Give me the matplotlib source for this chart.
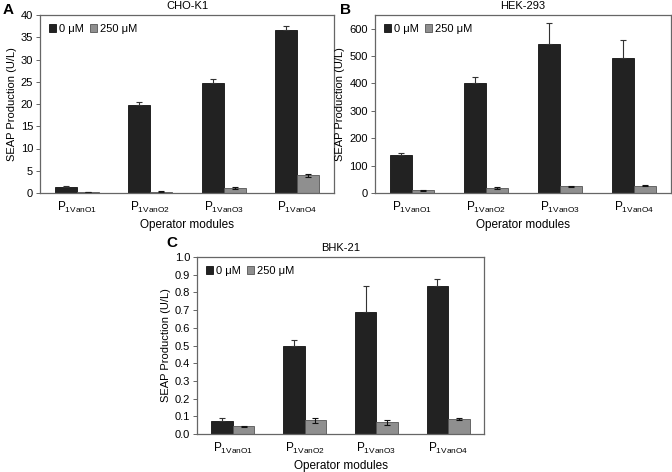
import matplotlib
matplotlib.use("Agg")
import matplotlib.pyplot as plt
import numpy as np

categories = ["1VanO1", "1VanO2", "1VanO3", "1VanO4"]
series_names = ["0 \u03bcM", "250 \u03bcM"]

cho_0 = [1.4, 19.7, 24.7, 36.7]
cho_0_err = [0.2, 0.7, 1.0, 0.9]
cho_250 = [0.2, 0.3, 1.1, 4.0]
cho_250_err = [0.05, 0.1, 0.15, 0.35]

hek_0 = [137, 400, 543, 493]
hek_0_err = [10, 24, 78, 67]
hek_250 = [10, 18, 24, 27]
hek_250_err = [2, 3, 2, 2]

bhk_0 = [0.073, 0.495, 0.690, 0.835]
bhk_0_err = [0.015, 0.035, 0.147, 0.040]
bhk_250 = [0.043, 0.078, 0.065, 0.083]
bhk_250_err = [0.003, 0.015, 0.016, 0.005]

plt.rcParams['font.family'] = ['Liberation Sans', 'DejaVu Sans']
plt.rcParams['mathtext.fontset'] = 'custom'
plt.rcParams['mathtext.rm'] = 'Liberation Sans'

W, H = 672, 472
fig = plt.figure(figsize=(W/100, H/100), dpi=100)

def ax_rect(x0, y0, x1, y1):
    return [x0/W, 1 - y1/H, (x1-x0)/W, (y1-y0)/H]

dark = '#222222'
grey = '#8f8f8f'
spine_c = '#666666'

def panel(rect, title, letter, letter_xy, d0, e0, d1, e1, ylim, yticks, fmt):
    ax = fig.add_axes(ax_rect(*rect))
    x = np.arange(len(categories))
    w = 0.3
    ax.bar(x - w/2, d0, w, color=dark, edgecolor='#111111', linewidth=0.6,
           yerr=[np.zeros(len(e0)), e0],
           error_kw=dict(ecolor='#333333', elinewidth=0.8, capsize=2.5, capthick=0.8),
           label=series_names[0])
    ax.bar(x + w/2, d1, w, color=grey, edgecolor='#555555', linewidth=0.6,
           yerr=e1, error_kw=dict(ecolor='#111111', elinewidth=0.8, capsize=2.5, capthick=0.8),
           label=series_names[1])
    ax.set_xlim(-0.5, 3.5)
    ax.set_ylim(*ylim)
    ax.set_yticks(yticks)
    ax.set_yticklabels([fmt.format(v) for v in yticks], fontsize=8)
    ax.set_xticks(x)
    ax.set_xticklabels([r'P$_{\mathregular{' + c + '}}$' for c in categories], fontsize=8.5)
    ax.tick_params(axis='x', length=0, pad=5)
    ax.tick_params(axis='y', length=3, width=0.7, color=spine_c, pad=2)
    for s in ax.spines.values():
        s.set_color(spine_c)
        s.set_linewidth(0.9)
    ax.set_ylabel('SEAP Production (U/L)', fontsize=8, labelpad=3)
    ax.set_xlabel('Operator modules', fontsize=8.5, labelpad=3)
    ax.set_title(title, fontsize=8, pad=4)
    ax.legend(loc='upper left', ncol=2, frameon=False, fontsize=8,
              handlelength=0.6, handleheight=0.6, handletextpad=0.3,
              columnspacing=0.6, borderaxespad=0.4)
    fig.text(letter_xy[0]/W, 1 - letter_xy[1]/H, letter, fontsize=11, fontweight='bold',
             ha='left', va='center')
    return ax

panel((40, 15, 334, 193), 'CHO-K1', 'A', (3, 10), cho_0, cho_0_err, cho_250, cho_250_err,
      (0, 40), list(range(0, 41, 5)), '{:d}')
panel((375, 15, 671, 193), 'HEK-293', 'B', (340, 10), hek_0, hek_0_err, hek_250, hek_250_err,
      (0, 650), list(range(0, 601, 100)), '{:d}')
panel((197, 257, 484, 434), 'BHK-21', 'C', (166, 243), bhk_0, bhk_0_err, bhk_250, bhk_250_err,
      (0, 1.0), [round(v, 1) for v in np.arange(0, 1.01, 0.1)], '{:.1f}')

fig.savefig('out.png', dpi=100)
